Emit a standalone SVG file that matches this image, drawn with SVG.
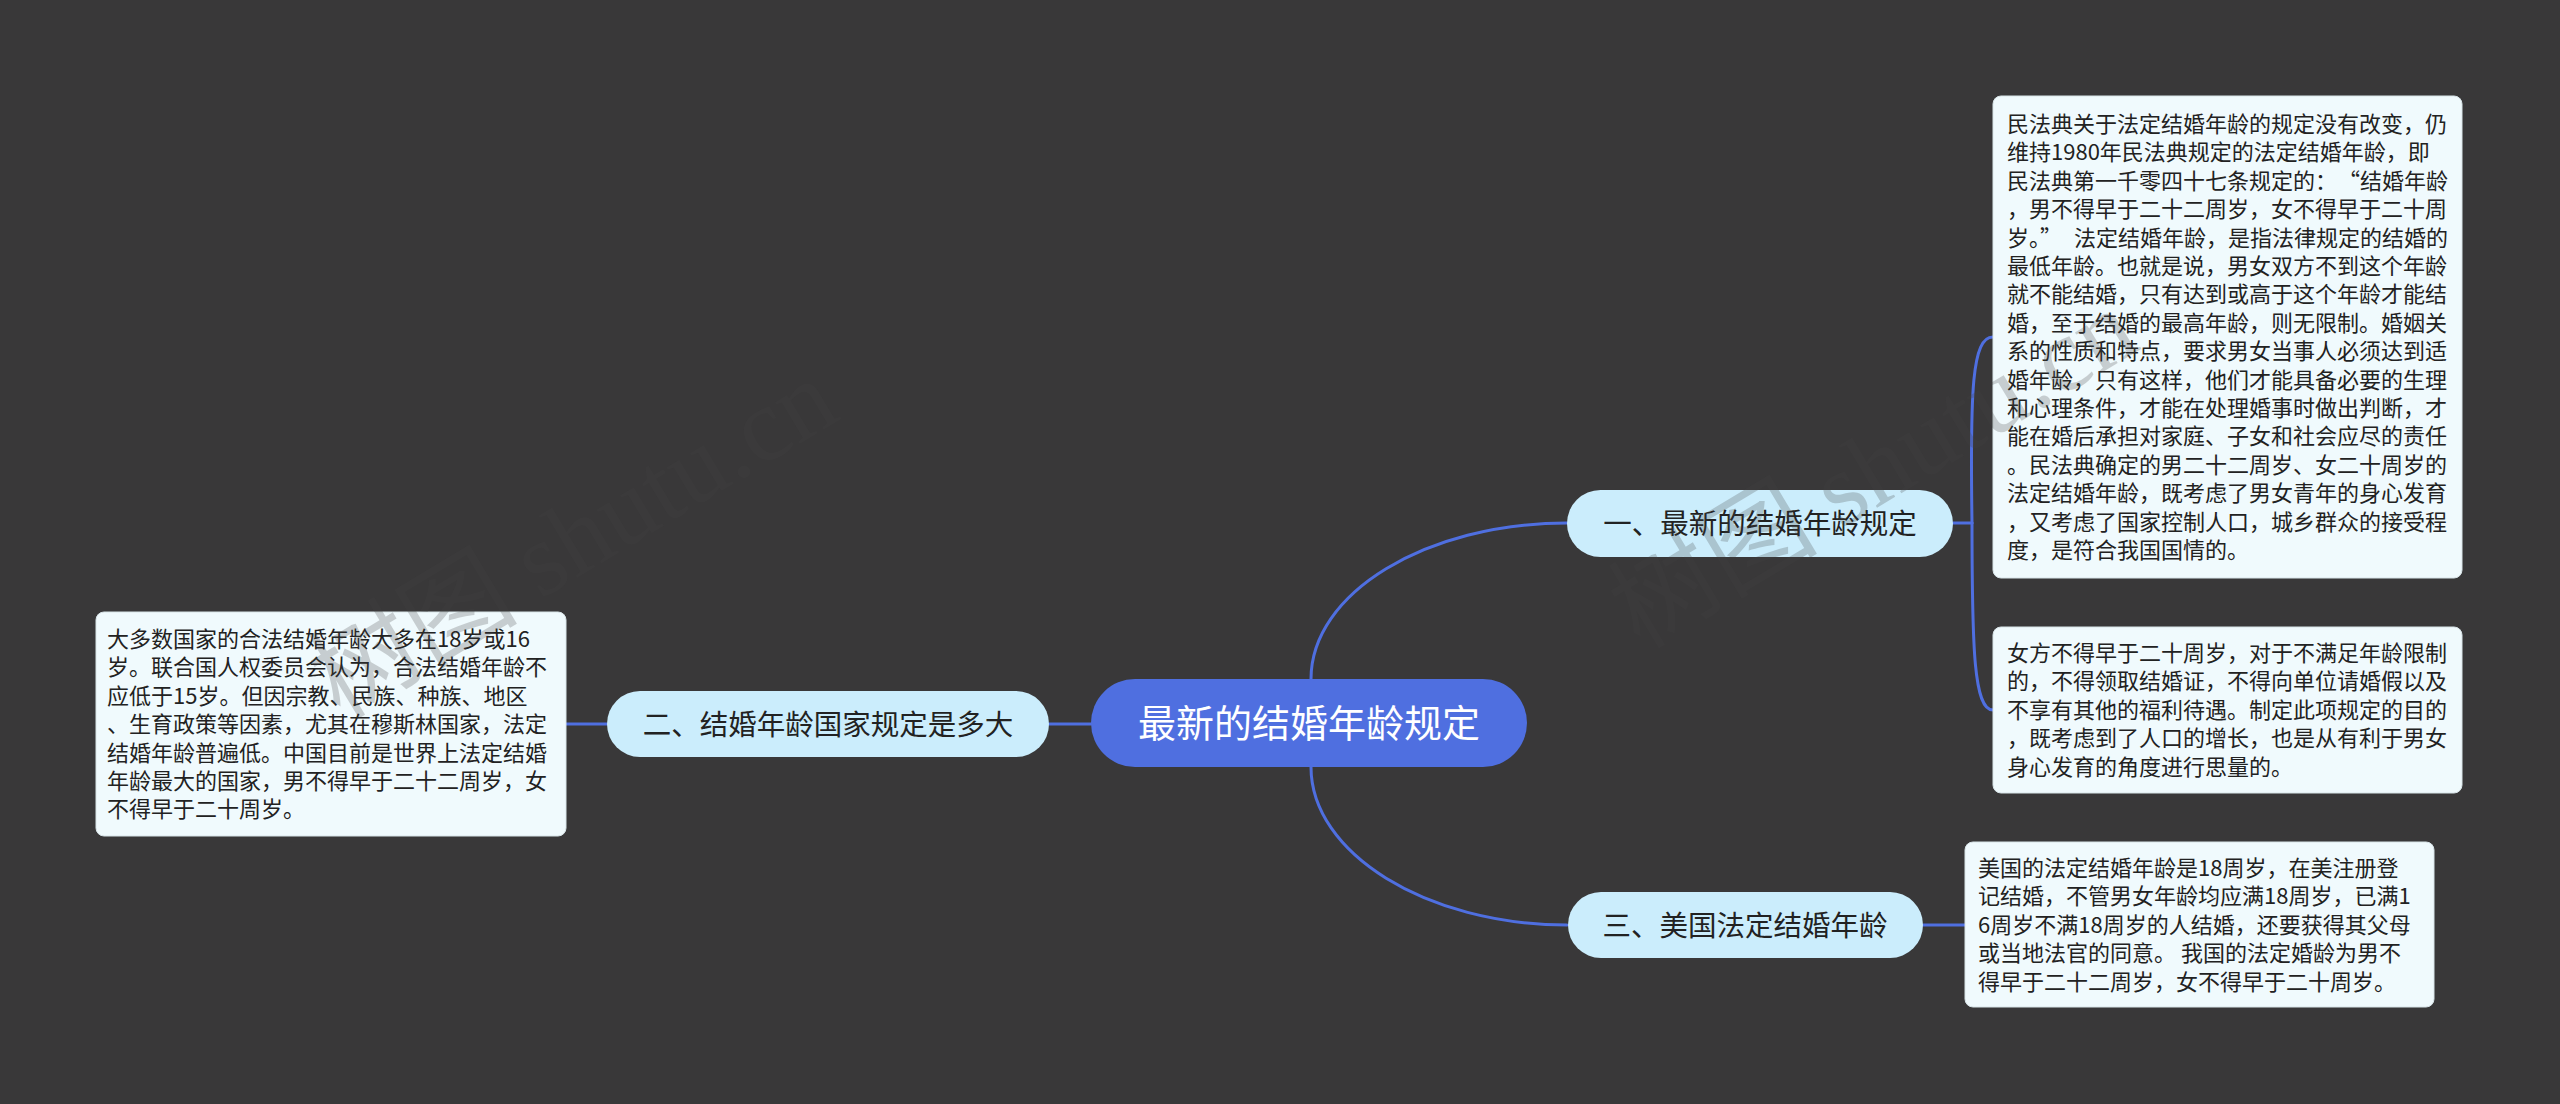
<svg xmlns="http://www.w3.org/2000/svg" width="2560" height="1104" viewBox="0 0 2560 1104">
<defs>
<style>
.bg{fill:#393839}
.wm{font-family:"Noto Sans CJK SC","Liberation Serif",serif;font-size:105px;fill:#444444;opacity:0.24}
.conn{fill:none;stroke:#4f6fe0;stroke-width:3;stroke-linecap:round}
.root rect{fill:#4f6fe0}
.root text{font-family:"Noto Sans CJK SC","Noto Sans",sans-serif;font-size:38px;fill:#ffffff;text-anchor:middle}
.br rect{fill:#cbedfc}
.br text{font-family:"Noto Sans CJK SC","Noto Sans",sans-serif;font-size:28.5px;fill:#222222;text-anchor:middle}
.leaf rect{fill:#f0fafd;stroke:#d8e4e8;stroke-width:1}
.leaf text{font-family:"Noto Sans CJK SC","Noto Sans",sans-serif;font-size:22px;fill:#222222}
</style>
</defs>
<rect class="bg" x="0" y="0" width="2560" height="1104"/>

<g id="connectors">
<path class="conn" d="M1311 679 C1311 593 1426 523 1567 523"/>
<path class="conn" d="M1311 767 C1311 853 1426 925 1567 925"/>
<path class="conn" d="M1049 724 L1091 724"/>
<path class="conn" d="M566 724 L607 724"/>
<path class="conn" d="M1953 523 L1972 523"/>
<path class="conn" d="M1972 523 C1970 390 1972 337 1993 337"/>
<path class="conn" d="M1972 523 C1972 650 1974 710 1993 710"/>
<path class="conn" d="M1923 925 L1965 925"/>
</g>

<g id="root" class="root">
<rect x="1091" y="679" width="436" height="88" rx="44"/>
<text x="1309" y="737">最新的结婚年龄规定</text>
</g>

<g id="branch1" class="br">
<rect x="1567" y="490" width="386" height="67" rx="33.5"/>
<text x="1760" y="534">一、最新的结婚年龄规定</text>
</g>

<g id="branch2" class="br">
<rect x="607" y="691" width="442" height="66" rx="33"/>
<text x="828" y="735">二、结婚年龄国家规定是多大</text>
</g>

<g id="branch3" class="br">
<rect x="1568" y="892" width="355" height="66" rx="33"/>
<text x="1745" y="936">三、美国法定结婚年龄</text>
</g>

<g id="leaf1" class="leaf">
<rect x="1993" y="96" width="469" height="482" rx="8"/>
<text x="2007" y="132">
<tspan x="2007" y="132">民法典关于法定结婚年龄的规定没有改变，仍</tspan>
<tspan x="2007" y="160.4">维持1980年民法典规定的法定结婚年龄，即</tspan>
<tspan x="2007" y="188.8">民法典第一千零四十七条规定的：<tspan dx="12">“</tspan>结婚年龄</tspan>
<tspan x="2007" y="217.2">，男不得早于二十二周岁，女不得早于二十周</tspan>
<tspan x="2007" y="245.6">岁。”<tspan dx="12">法</tspan>定结婚年龄，是指法律规定的结婚的</tspan>
<tspan x="2007" y="274">最低年龄。也就是说，男女双方不到这个年龄</tspan>
<tspan x="2007" y="302.4">就不能结婚，只有达到或高于这个年龄才能结</tspan>
<tspan x="2007" y="330.8">婚，至于结婚的最高年龄，则无限制。婚姻关</tspan>
<tspan x="2007" y="359.2">系的性质和特点，要求男女当事人必须达到适</tspan>
<tspan x="2007" y="387.6">婚年龄，只有这样，他们才能具备必要的生理</tspan>
<tspan x="2007" y="416">和心理条件，才能在处理婚事时做出判断，才</tspan>
<tspan x="2007" y="444.4">能在婚后承担对家庭、子女和社会应尽的责任</tspan>
<tspan x="2007" y="472.8">。民法典确定的男二十二周岁、女二十周岁的</tspan>
<tspan x="2007" y="501.2">法定结婚年龄，既考虑了男女青年的身心发育</tspan>
<tspan x="2007" y="529.6">，又考虑了国家控制人口，城乡群众的接受程</tspan>
<tspan x="2007" y="558">度，是符合我国国情的。</tspan>
</text>
</g>

<g id="leaf2" class="leaf">
<rect x="1993" y="627" width="469" height="166" rx="8"/>
<text x="2007" y="661">
<tspan x="2007" y="661">女方不得早于二十周岁，对于不满足年龄限制</tspan>
<tspan x="2007" y="689.4">的，不得领取结婚证，不得向单位请婚假以及</tspan>
<tspan x="2007" y="717.8">不享有其他的福利待遇。制定此项规定的目的</tspan>
<tspan x="2007" y="746.2">，既考虑到了人口的增长，也是从有利于男女</tspan>
<tspan x="2007" y="774.6">身心发育的角度进行思量的。</tspan>
</text>
</g>

<g id="leaf3" class="leaf">
<rect x="1965" y="842" width="469" height="165" rx="8"/>
<text x="1978" y="876">
<tspan x="1978" y="876">美国的法定结婚年龄是18周岁，在美注册登</tspan>
<tspan x="1978" y="904.4">记结婚，不管男女年龄均应满18周岁，已满1</tspan>
<tspan x="1978" y="932.8">6周岁不满18周岁的人结婚，还要获得其父母</tspan>
<tspan x="1978" y="961.2">或当地法官的同意。 我国的法定婚龄为男不</tspan>
<tspan x="1978" y="989.6">得早于二十二周岁，女不得早于二十周岁。</tspan>
</text>
</g>

<g id="leaf4" class="leaf">
<rect x="96" y="612" width="470" height="224" rx="8"/>
<text x="107" y="647">
<tspan x="107" y="647">大多数国家的合法结婚年龄大多在18岁或16</tspan>
<tspan x="107" y="675.4">岁。联合国人权委员会认为，合法结婚年龄不</tspan>
<tspan x="107" y="703.8">应低于15岁。但因宗教、民族、种族、地区</tspan>
<tspan x="107" y="732.2">、生育政策等因素，尤其在穆斯林国家，法定</tspan>
<tspan x="107" y="760.6">结婚年龄普遍低。中国目前是世界上法定结婚</tspan>
<tspan x="107" y="789">年龄最大的国家，男不得早于二十二周岁，女</tspan>
<tspan x="107" y="817.4">不得早于二十周岁。</tspan>
</text>
</g>

<g id="watermark">
<text class="wm" x="340" y="720" transform="rotate(-31 340 720)">树图 <tspan font-family="Liberation Serif">shutu.cn</tspan></text>
<text class="wm" x="1640" y="650" transform="rotate(-31 1640 650)">树图 <tspan font-family="Liberation Serif">shutu.cn</tspan></text>
</g>
</svg>
